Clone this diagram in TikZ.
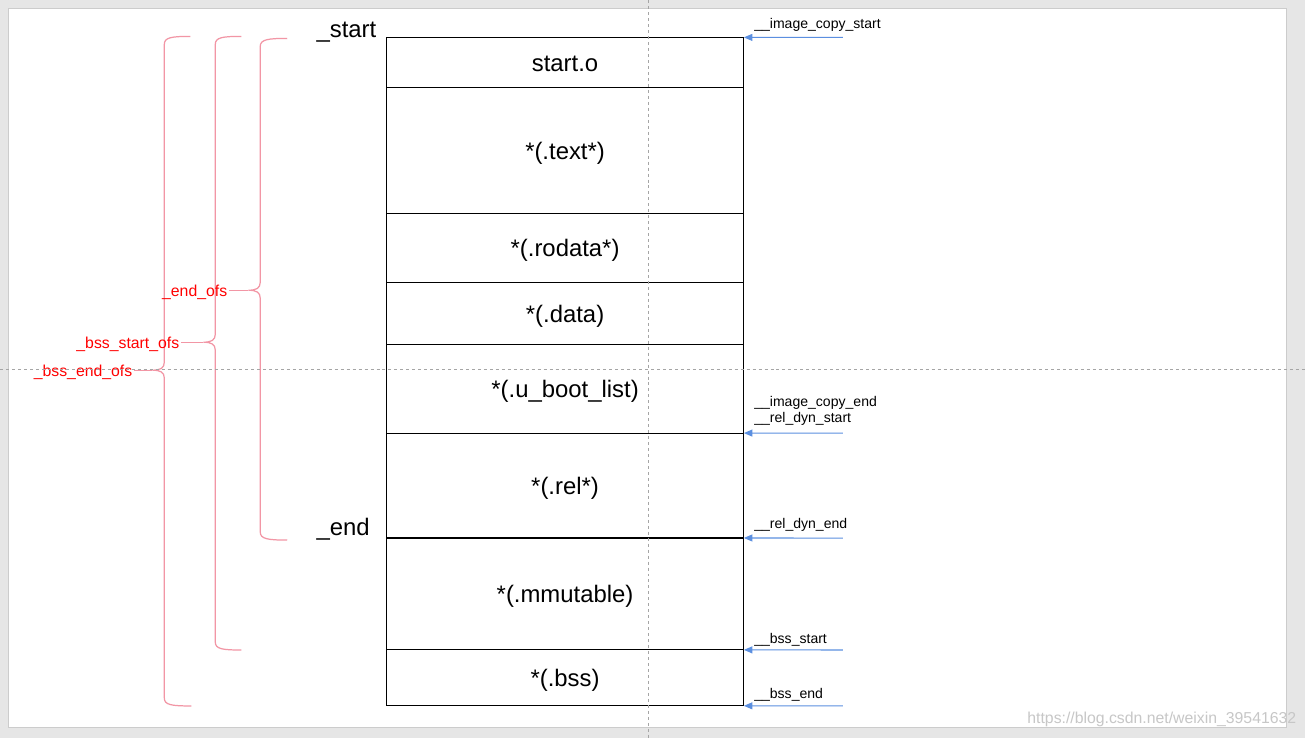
\documentclass[tikz,border=0pt]{standalone}
\usepackage{fontspec}
\setmainfont{Liberation Sans}
\usetikzlibrary{arrows.meta,positioning}

\definecolor{bracered}{RGB}{242,150,165}
\definecolor{ptrblue}{RGB}{91,143,224}
\definecolor{guidegray}{RGB}{165,165,165}
\definecolor{pagegray}{RGB}{230,230,230}

\begin{document}
\begin{tikzpicture}[
  x=0.02cm,y=-0.02cm,
  node distance=0pt,
  seg/.style={rectangle,draw,line width=0.6pt,minimum width=7.16cm,inner sep=0pt,outer sep=0pt,text height=12.6pt,text depth=2.4pt,font=\fontsize{13.6}{16}\selectfont},
  bigsym/.style={anchor=base west,inner sep=0pt,font=\fontsize{13.6}{16}\selectfont},
  sym/.style={anchor=base west,inner sep=0pt,font=\fontsize{8}{9.1}\selectfont},
  ofs/.style={anchor=east,inner sep=1pt,text height=0.905em,text depth=0.212em,text=red,font=\fontsize{9}{11}\selectfont},
  ptr/.style={-{Triangle[length=1.7mm,width=1.4mm]},draw=ptrblue,line width=0.6pt},
  brace/.style={draw=bracered,line width=0.7pt},
  guide/.style={draw=guidegray,line width=0.5pt,dash pattern=on 1.7pt off 1.7pt}
]
\fill[pagegray] (0,0) rectangle (1305,738);
\filldraw[fill=white,draw=black!20,line width=0.6pt] (8,8) rectangle (1287,728);

\node[seg,minimum height=1cm] (starto) at (565,62) {start.o};
\node[seg,minimum height=2.52cm,below=of starto] (textsec) {*(.text*)};
\node[seg,minimum height=1.38cm,below=of textsec] (rodata) {*(.rodata*)};
\node[seg,minimum height=1.24cm,below=of rodata] (datasec) {*(.data)};
\node[seg,minimum height=1.78cm,below=of datasec] (ubootlist) {*(.u\_boot\_list)};
\node[seg,minimum height=2.10cm,below=of ubootlist] (relsec) {*(.rel*)};
\node[seg,minimum height=2.24cm,below=of relsec] (mmutable) {*(.mmutable)};
\node[seg,minimum height=1.12cm,below=of mmutable] (bsssec) {*(.bss)};

\node[bigsym] (startlbl) at (316,37) {\_start};
\node[bigsym] (endlbl) at (316,535) {\_end};

\coordinate (icsfree) at (843,37);
\coordinate (icefree) at (843,433);
\coordinate (rdefree) at (843,538);
\coordinate (bssfree) at (843,650);
\coordinate (bsefree) at (843,706);
\draw[ptr] (icsfree) -- (starto.north east);
\draw[ptr] (icefree) -- (ubootlist.south east);
\draw[ptr] (rdefree) -- (relsec.south east);
\draw[ptr] (bssfree) -- (mmutable.south east);
\draw[ptr] (bsefree) -- (bsssec.south east);
\node[sym] (icslbl) at (754,28) {\_\_image\_copy\_start};
\node[sym] (icelbl) at (754,406) {\_\_image\_copy\_end};
\node[sym] (rdslbl) at (754,422) {\_\_rel\_dyn\_start};
\node[sym] (rdelbl) at (754,528) {\_\_rel\_dyn\_end};
\node[sym] (bsslbl) at (754,643) {\_\_bss\_start};
\node[sym] (bselbl) at (754,699) {\_\_bss\_end};

\coordinate (endtip) at (248,290);
\coordinate (bssstarttip) at (203,342);
\coordinate (bssendtip) at (152,370);
\draw[brace] (287,38) .. controls (268,38) and (260,39) .. (260,46) -- (260,282)
  .. controls (260,288) and (256,290) .. (endtip) .. controls (256,290) and (260,292) .. (260,298)
  -- (260,532) .. controls (260,539) and (268,540) .. (287,540);
\draw[brace] (241,36) .. controls (222,36) and (215,37) .. (215,44) -- (215,334)
  .. controls (215,340) and (211,342) .. (bssstarttip) .. controls (211,342) and (215,344) .. (215,350)
  -- (215,642) .. controls (215,649) and (222,650) .. (241,650);
\draw[brace] (190,36) .. controls (171,36) and (164,37) .. (164,44) -- (164,362)
  .. controls (164,368) and (160,370) .. (bssendtip) .. controls (160,370) and (164,372) .. (164,378)
  -- (164,698) .. controls (164,705) and (171,706) .. (191,706);
\node[ofs] (endofs) at (229,290) {\_end\_ofs};
\node[ofs] (bssstartofs) at (181,342) {\_bss\_start\_ofs};
\node[ofs] (bssendofs) at (134,370) {\_bss\_end\_ofs};
\draw[brace] (endofs) -- (endtip);
\draw[brace] (bssstartofs) -- (bssstarttip);
\draw[brace] (bssendofs) -- (bssendtip);

\draw[guide] (648,0) -- (648,738);
\draw[guide] (0,369) -- (1305,369);

\node[anchor=east,inner sep=0pt,text=black!22,font=\fontsize{9}{11}\selectfont] (watermark) at (1297,719) {https://blog.csdn.net/weixin\_39541632};
\end{tikzpicture}
\end{document}
